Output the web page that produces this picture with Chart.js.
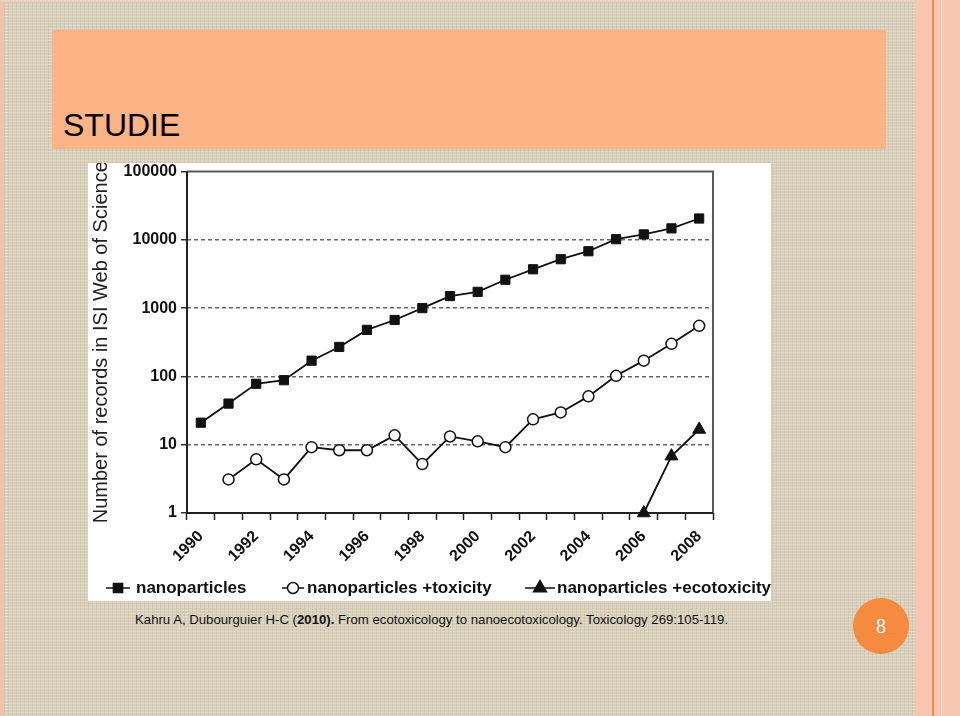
<!DOCTYPE html>
<html><head><meta charset="utf-8">
<script src="https://cdn.jsdelivr.net/npm/chart.js@4"></script>
<style>
html,body{margin:0;padding:0;}
body{width:960px;height:716px;position:relative;overflow:hidden;
 background-color:#d8cfba;
 background-image:
  repeating-linear-gradient(0deg, rgba(255,255,255,0.20) 0 1px, rgba(0,0,0,0) 1px 3px),
  repeating-linear-gradient(90deg, rgba(110,95,65,0.10) 0 1px, rgba(0,0,0,0) 1px 4px);
}
#edgeL{position:absolute;left:0;top:0;width:4px;height:716px;background:#f1c2aa;}
#edgeT{position:absolute;left:0;top:0;width:960px;height:2px;background:#eecfbf;}
#stripe{position:absolute;left:915px;top:0;width:45px;height:716px;background:#f7c6b1;}
#stripe1{position:absolute;left:932px;top:0;width:2px;height:716px;background:#f48a48;}
#stripe2{position:absolute;left:941px;top:0;width:1px;height:716px;background:#fbd9ca;}
#title{position:absolute;left:52px;top:30px;width:834px;height:119px;background:#fcb385;}
#title span{position:absolute;left:11px;top:79px;font:32px "Liberation Sans",Arial,sans-serif;line-height:32px;color:#000;}
#panel{position:absolute;left:88px;top:163px;width:683px;height:438px;background:#fff;}
#cap{position:absolute;left:135px;top:612px;font:13.2px "Liberation Sans",Arial,sans-serif;line-height:16px;color:#111;white-space:nowrap;}
#num{position:absolute;left:853px;top:598px;width:56px;height:56px;border-radius:50%;background:#f68a3e;color:#fff;font:20px "Liberation Serif",serif;text-align:center;line-height:56px;}
canvas{display:block;}
</style>
</head><body>
<div id="edgeL"></div><div id="edgeT"></div>
<div id="stripe"></div><div id="stripe1"></div><div id="stripe2"></div>
<div id="title"><span>STUDIE</span></div>
<div id="panel"><canvas id="c" width="683" height="438"></canvas></div>
<div id="cap">Kahru A, Dubourguier H-C (<b>2010).</b> From ecotoxicology to nanoecotoxicology. Toxicology 269:105-119.</div>
<div id="num">8</div>
<script>
const years = ['1990','1991','1992','1993','1994','1995','1996','1997','1998','1999','2000','2001','2002','2003','2004','2005','2006','2007','2008'];
const nanoparticles = [21,40,78,88,170,270,480,670,1000,1500,1730,2600,3700,5200,6800,10200,12000,14700,20500];
const nanoToxicity = [null,3.1,6.1,3.1,9.2,8.3,8.3,13.7,5.2,13.2,11.2,9.2,23.5,29.7,51,102,170,300,550];
const nanoEcotoxicity = [null,null,null,null,null,null,null,null,null,null,null,null,null,null,null,null,1,6.8,16.7];
const yTicks = [1,10,100,1000,10000,100000];
const seriesNames = ['nanoparticles','nanoparticles +toxicity','nanoparticles +ecotoxicity'];

const FONT = '"Liberation Sans", Arial, sans-serif';

const framePlugin = {
  id:'frame',
  beforeDatasetsDraw(chart){
    const {ctx, chartArea:a} = chart;
    ctx.save();
    ctx.lineWidth = 2;
    ctx.strokeStyle = '#5a5a5a';
    ctx.beginPath();
    ctx.moveTo(a.left, a.top); ctx.lineTo(a.right, a.top); ctx.lineTo(a.right, a.bottom);
    ctx.stroke();
    ctx.strokeStyle = '#222';
    ctx.beginPath();
    ctx.moveTo(a.left, a.top); ctx.lineTo(a.left, a.bottom); ctx.lineTo(a.right, a.bottom);
    ctx.stroke();
    ctx.restore();
  }
};

const legendPlugin = {
  id:'customLegend',
  afterDraw(chart){
    const ctx = chart.ctx;
    const y = 425;
    const items = [
      {x0:18, x1:42, style:'rect', r:6.5, fill:'#111', tx:48},
      {x0:194, x1:216, style:'circle', r:5.5, fill:'#fff', tx:219},
      {x0:437, x1:467, style:'triangle', r:7.5, fill:'#111', tx:469}
    ];
    ctx.save();
    items.forEach((it,i)=>{
      ctx.strokeStyle = '#111'; ctx.lineWidth = 1.5;
      ctx.beginPath(); ctx.moveTo(it.x0, y); ctx.lineTo(it.x1, y); ctx.stroke();
      ctx.fillStyle = it.fill;
      Chart.helpers.drawPoint(ctx, {pointStyle:it.style, radius:it.r, borderWidth:1.5, rotation:0}, (it.x0+it.x1)/2, y);
      ctx.fillStyle = '#111';
      ctx.font = 'bold 17px ' + FONT;
      ctx.textBaseline = 'middle';
      ctx.textAlign = 'left';
      ctx.fillText(seriesNames[i], it.tx, y);
    });
    ctx.restore();
  }
};

new Chart(document.getElementById('c'), {
  type:'line',
  data:{
    labels: years,
    datasets:[
      {label:seriesNames[0], data:nanoparticles, borderColor:'#111', borderWidth:1.8, pointStyle:'rect', pointRadius:6.5, pointBackgroundColor:'#111', pointBorderColor:'#111', pointBorderWidth:1, clip:false},
      {label:seriesNames[1], data:nanoToxicity, borderColor:'#111', borderWidth:1.8, pointStyle:'circle', pointRadius:5.5, pointBackgroundColor:'#fff', pointBorderColor:'#111', pointBorderWidth:1.5, clip:false},
      {label:seriesNames[2], data:nanoEcotoxicity, borderColor:'#111', borderWidth:1.8, pointStyle:'triangle', pointRadius:7.5, pointBackgroundColor:'#111', pointBorderColor:'#111', pointBorderWidth:1, clip:false}
    ]
  },
  options:{
    responsive:false,
    animation:false,
    devicePixelRatio:1,
    layout:{padding:{left:0, top:7, right:58, bottom:28}},
    plugins:{legend:{display:false}, tooltip:{enabled:false}},
    scales:{
      x:{
        type:'category', offset:true,
        grid:{offset:true, drawOnChartArea:false, drawTicks:true, tickLength:7, tickColor:'#222', tickWidth:1.5},
        border:{display:false},
        ticks:{autoSkip:false, maxRotation:45, minRotation:45, padding:7, color:'#111',
          font:{family:FONT, size:16, weight:'bold'},
          callback:(v,i)=> (i%2===0 ? years[i] : '')},
        afterFit:s=>{s.height = 60; s.paddingLeft = 0; s.paddingRight = 0;}
      },
      y:{
        type:'logarithmic', min:1, max:100000,
        afterBuildTicks:s=>{ s.ticks = yTicks.map(v=>({value:v})); },
        afterFit:s=>{ s.width = 99; s.paddingTop = 0; s.paddingBottom = 0; },
        grid:{color:c=> (c.tick && (c.tick.value===1 || c.tick.value===100000)) ? 'rgba(0,0,0,0)' : '#666',
          lineWidth:1.5, drawTicks:true, tickLength:6, tickColor:'#333', tickWidth:1.5, tickBorderDash:[]},
        border:{display:false, dash:[4,3]},
        ticks:{padding:4, color:'#111', font:{family:FONT, size:16, weight:'bold'}, callback:v=>String(v)},
        title:{display:true, text:'Number of records in ISI Web of Science', color:'#222',
          font:{family:FONT, size:20, weight:'normal'}, padding:{top:1, bottom:0}}
      }
    }
  },
  plugins:[framePlugin, legendPlugin]
});
</script>
</body></html>
